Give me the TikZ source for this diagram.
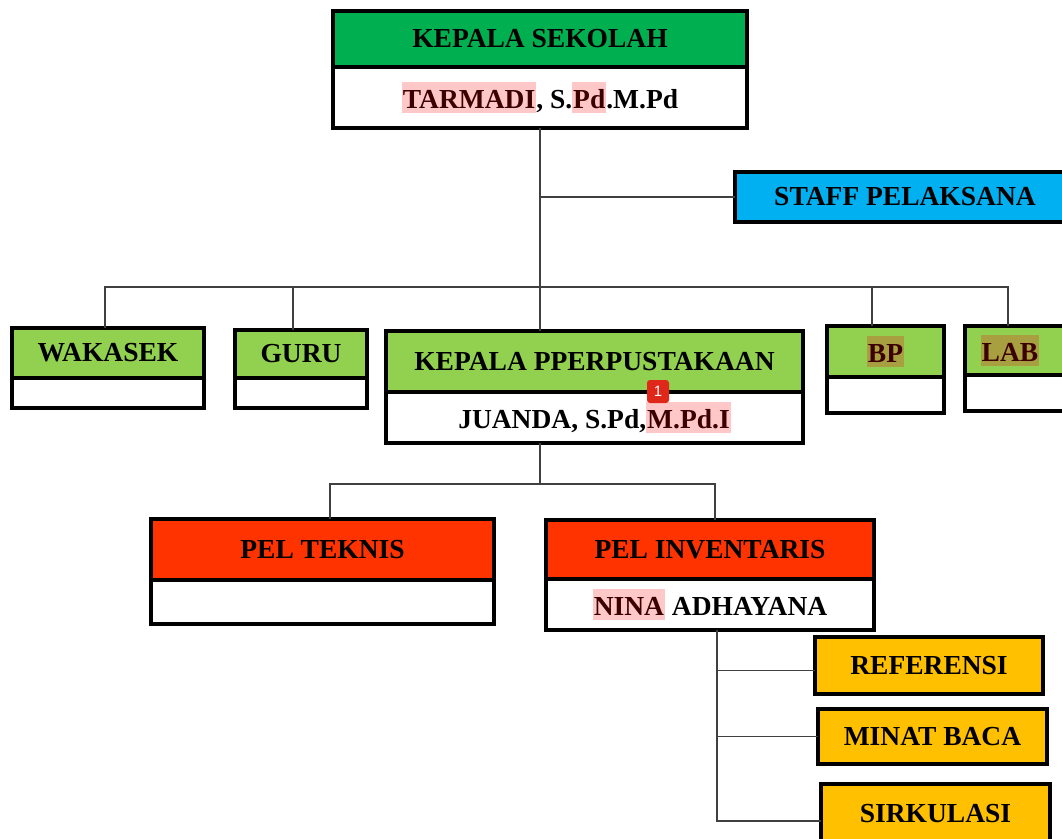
\documentclass[tikz,border=0pt]{standalone}
\usepackage{fontspec}
\setmainfont{Liberation Serif}
\setsansfont{Liberation Sans}
\usetikzlibrary{positioning}

\definecolor{ksgreen}{HTML}{00B050}
\definecolor{ltgreen}{HTML}{92D050}
\definecolor{staffblue}{HTML}{00B0F0}
\definecolor{pelred}{HTML}{FF3300}
\definecolor{subgold}{HTML}{FFC000}
\definecolor{hlpink}{HTML}{FFC8C8}
\definecolor{hlolive}{HTML}{A8A040}
\definecolor{hltext}{HTML}{3C0000}
\definecolor{badgered}{HTML}{E0281A}

\newcommand{\hlpk}[1]{{\fboxsep=0pt\colorbox{hlpink}{\rule[-5pt]{0pt}{31pt}\kern1pt\color{hltext}#1\kern1pt}}}
\newcommand{\hlol}[1]{{\fboxsep=0pt\colorbox{hlolive}{\rule[-5pt]{0pt}{31pt}\kern1pt\color{hltext}#1\kern1pt}}}

\begin{document}
\begin{tikzpicture}[x=1pt,y=-1pt,
  box/.style={draw,line width=3.5pt,outer sep=0pt,inner sep=0pt,
    font=\bfseries\fontsize{27.5}{30}\selectfont},
  head/.style={box,fill=#1},
  namebox/.style={box,fill=white},
  link/.style={line width=1.5pt,draw=black!75}]

  \useasboundingbox (0,0) rectangle (1062,838);

  % kepala sekolah
  \node[head=ksgreen,minimum width=414,minimum height=56] (ks) at (540,39) {KEPALA SEKOLAH};
  \node[namebox,minimum width=414,minimum height=61,below=0pt of ks] (ksname) {\hlpk{TARMADI}, S.\hlpk{Pd}.M.Pd};
  \node[head=staffblue,minimum width=340,minimum height=50] (staff) at (905,197) {STAFF PELAKSANA};

  % second row
  \node[head=ltgreen,minimum width=192,minimum height=50] (wakasek) at (108,353) {WAKASEK};
  \node[namebox,minimum width=192,minimum height=30,below=0pt of wakasek] (wakasekname) {};
  \node[head=ltgreen,minimum width=132,minimum height=48] (guru) at (301,354) {GURU};
  \node[namebox,minimum width=132,minimum height=30,below=0pt of guru] (guruname) {};
  \node[head=ltgreen,minimum width=417,minimum height=61] (kp) at (594.5,361.5) {KEPALA PPERPUSTAKAAN};
  \node[namebox,minimum width=417,minimum height=51,below=0pt of kp] (kpname) {JUANDA, S.Pd,\hlpk{M.Pd.I}};
  \node[head=ltgreen,minimum width=117,minimum height=51] (bp) at (885.5,351.5) {\hlol{BP}};
  \node[namebox,minimum width=117,minimum height=36,below=0pt of bp] (bpname) {};
  \node[head=ltgreen,minimum width=110,minimum height=49] (lab) at (1020,350.5) {\hspace*{-20pt}\hlol{LAB}};
  \node[namebox,minimum width=110,minimum height=36,below=0pt of lab] (labname) {};

  % note marker
  \node[fill=badgered,rounded corners=3pt,text=white,inner sep=0pt,minimum width=22,minimum height=23,
    font=\sffamily\fontsize{15}{15}\selectfont] (note) at (658,391.5) {1};

  % third row
  \node[head=pelred,minimum width=343,minimum height=61] (teknis) at (322.5,549.5) {PEL TEKNIS};
  \node[namebox,minimum width=343,minimum height=44,below=0pt of teknis] (teknisname) {};
  \node[head=pelred,minimum width=328,minimum height=59] (inv) at (710,549.5) {PEL INVENTARIS};
  \node[namebox,minimum width=328,minimum height=51,below=0pt of inv] (invname) {\hlpk{NINA} ADHAYANA};

  % sub units
  \node[head=subgold,minimum width=228,minimum height=57] (ref) at (929,665.5) {REFERENSI};
  \node[head=subgold,minimum width=229,minimum height=55] (minat) at (932.5,736.5) {MINAT BACA};
  \node[head=subgold,minimum width=229,minimum height=60] (sirk) at (935.5,814) {SIRKULASI};

  % connectors
  \coordinate (topbus) at (540,287);
  \coordinate (midbus) at (540,484);
  \coordinate (trunk) at ([xshift=7pt]invname.south);

  \draw[link] (ksname.south) -- (topbus);
  \draw[link] (ksname.south |- staff.west) -- (staff.west);
  \draw[link] ([xshift=-3pt]wakasek.north) |- (topbus);
  \draw[link] ([xshift=-8pt]guru.north) |- (topbus);
  \draw[link] (kp.north -| topbus) -- (topbus);
  \draw[link] ([xshift=-13.5pt]bp.north) |- (topbus);
  \draw[link] ([xshift=-12pt]lab.north) |- (topbus);

  \draw[link] (kpname.south -| midbus) -- (midbus);
  \draw[link] ([xshift=7.5pt]teknis.north) |- (midbus);
  \draw[link] ([xshift=5pt]inv.north) |- (midbus);

  \draw[link] (trunk) |- ([yshift=-7pt]sirk.west);
  \draw[link] ([yshift=-5pt]ref.west) -- ([yshift=-5pt]ref.west -| trunk);
  \draw[link] (minat.west) -- (minat.west -| trunk);
\end{tikzpicture}
\end{document}
